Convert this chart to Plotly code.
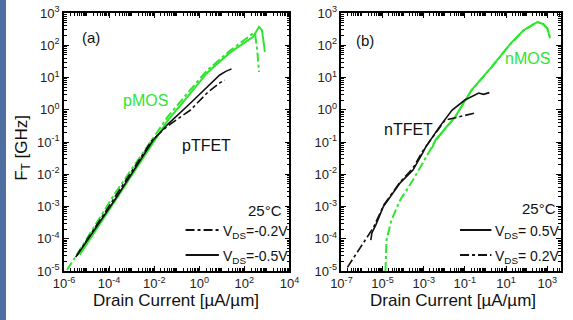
import plotly.graph_objects as go
from plotly.subplots import make_subplots

# ---------------- Panel (a): p-type devices ----------------
a_pmos_05_i = [5.0e-6, 2.2e-4, 1.1e-2, 4.1e-2, 0.41, 2.2, 22, 123, 245, 447, 603, 741, 813]
a_pmos_05_f = [3.2e-5, 1.8e-3, 0.115, 0.48, 3.3, 13.8, 58, 135, 182, 372, 295, 102, 62]

a_pmos_02_i = [1.35e-6, 4.1e-6, 1.66e-4, 9.1e-3, 4.1e-2, 0.41, 2.2, 22, 123, 245, 302, 372, 447]
a_pmos_02_f = [1.07e-5, 3.6e-5, 2.3e-3, 0.14, 0.62, 4.2, 16.5, 66, 160, 235, 209, 71, 14.8]

a_ptfet_05_i = [3.7e-6, 2.0e-4, 9.1e-3, 4.1e-2, 0.41, 2.2, 8.1, 15, 20, 27]
a_ptfet_05_f = [2.95e-5, 1.8e-3, 0.115, 0.36, 1.62, 5.1, 12.0, 15.5, 17, 18.5]

a_ptfet_02_i = [3.3e-6, 1.8e-4, 8.1e-3, 4.1e-2, 0.41, 2.2, 8.1, 13.5]
a_ptfet_02_f = [2.7e-5, 1.95e-3, 0.115, 0.32, 0.98, 3.3, 6.8, 8.3]

# ---------------- Panel (b): n-type devices ----------------
b_nmos_05_i = [2.5e-3, 3.7e-3, 3.3e-2, 0.21, 1.95, 17.4, 72, 200, 331, 630, 1000, 1380]
b_nmos_05_f = [6.3e-2, 0.115, 0.60, 4.1, 21, 117, 295, 447, 525, 457, 339, 166]

b_nmos_02_i = [1.38e-5, 1.55e-5, 2.7e-5, 7.2e-5, 3.0e-4, 8.9e-4, 3.7e-3, 3.3e-2, 0.21, 1.95, 17.4, 72, 200, 331, 630, 1000, 1320]
b_nmos_02_f = [1.0e-5, 9.1e-5, 3.8e-4, 1.6e-3, 6.6e-3, 2.2e-2, 0.11, 0.58, 4.0, 20.5, 115, 290, 440, 520, 455, 335, 190]

b_ntfet_05_i = [2.7e-6, 3.0e-6, 4.7e-6, 1.1e-5, 7.2e-5, 3.0e-4, 8.9e-4, 1.26e-3, 5.8e-3, 2.4e-2, 0.1, 0.47, 0.8, 1.55]
b_ntfet_05_f = [9.1e-5, 1.5e-4, 2.7e-4, 1.0e-3, 5.4e-3, 1.35e-2, 4.6e-2, 7.1e-2, 0.295, 0.98, 2.0, 3.3, 3.0, 3.4]

b_ntfet_02_i = [1.95e-7, 7.9e-7, 3.7e-6, 1.1e-5, 7.2e-5, 3.0e-4, 8.9e-4, 2.7e-3, 1.1e-2, 5.1e-2, 0.30]
b_ntfet_02_f = [1.3e-5, 5.1e-5, 2.3e-4, 1.07e-3, 5.8e-3, 1.55e-2, 5.2e-2, 0.14, 0.48, 0.60, 0.79]

# ---------------- Tick labels ----------------
a_xtick_vals = [1e-6, 1e-4, 1e-2, 1e0, 1e2, 1e4]
a_xtick_text = ["10<sup>-6</sup>", "10<sup>-4</sup>", "10<sup>-2</sup>", "10<sup>0</sup>", "10<sup>2</sup>", "10<sup>4</sup>"]
b_xtick_vals = [1e-7, 1e-5, 1e-3, 1e-1, 1e1, 1e3]
b_xtick_text = ["10<sup>-7</sup>", "10<sup>-5</sup>", "10<sup>-3</sup>", "10<sup>-1</sup>", "10<sup>1</sup>", "10<sup>3</sup>"]
ytick_vals = [1e-5, 1e-4, 1e-3, 1e-2, 1e-1, 1e0, 1e1, 1e2, 1e3]
ytick_text = ["10<sup>-5</sup>", "10<sup>-4</sup>", "10<sup>-3</sup>", "10<sup>-2</sup>", "10<sup>-1</sup>",
              "10<sup>0</sup>", "10<sup>1</sup>", "10<sup>2</sup>", "10<sup>3</sup>"]

GREEN = "#2fe62f"
BLACK = "#111111"
FONT = "Arial, Liberation Sans, sans-serif"

W, H = 573, 320
ML, MR, MT, MB = 64, 2, 13, 49
PW, PH = W - ML - MR, H - MT - MB


def px(x):
    return (x - ML) / PW


def py(y):
    return (H - MB - y) / PH


fig = make_subplots(rows=1, cols=2, horizontal_spacing=0.0)

# panel (a)
fig.add_trace(go.Scatter(x=a_pmos_05_i, y=a_pmos_05_f, mode="lines",
                         line=dict(color=GREEN, width=2, dash="solid")), row=1, col=1)
fig.add_trace(go.Scatter(x=a_pmos_02_i, y=a_pmos_02_f, mode="lines",
                         line=dict(color=GREEN, width=2, dash="dashdot")), row=1, col=1)
fig.add_trace(go.Scatter(x=a_ptfet_05_i, y=a_ptfet_05_f, mode="lines",
                         line=dict(color=BLACK, width=1.6, dash="solid")), row=1, col=1)
fig.add_trace(go.Scatter(x=a_ptfet_02_i, y=a_ptfet_02_f, mode="lines",
                         line=dict(color=BLACK, width=1.6, dash="dashdot")), row=1, col=1)
# panel (b)
fig.add_trace(go.Scatter(x=b_nmos_02_i, y=b_nmos_02_f, mode="lines",
                         line=dict(color=GREEN, width=2, dash="dashdot")), row=1, col=2)
fig.add_trace(go.Scatter(x=b_nmos_05_i, y=b_nmos_05_f, mode="lines",
                         line=dict(color=GREEN, width=2, dash="solid")), row=1, col=2)
fig.add_trace(go.Scatter(x=b_ntfet_05_i, y=b_ntfet_05_f, mode="lines",
                         line=dict(color=BLACK, width=1.6, dash="solid")), row=1, col=2)
fig.add_trace(go.Scatter(x=b_ntfet_02_i, y=b_ntfet_02_f, mode="lines",
                         line=dict(color=BLACK, width=1.6, dash="dashdot")), row=1, col=2)


def minor_vals(lo, hi):
    vals = []
    for e in range(lo, hi):
        for m in range(1, 10):
            vals.append(m * 10.0 ** e)
    return vals


axis_common = dict(type="log", showgrid=False, zeroline=False, showline=True,
                   linecolor="black", linewidth=1.5, mirror="allticks",
                   ticks="inside", ticklen=5, tickwidth=1.2, tickcolor="black",
                   tickmode="array", tickfont=dict(family=FONT, size=13, color="#222"),
                   exponentformat="power")

fig.update_xaxes(axis_common)
fig.update_yaxes(axis_common)

fig.update_layout(
    xaxis=dict(domain=[0, px(294)], range=[-6, 4], tickvals=a_xtick_vals, ticktext=a_xtick_text,
               minor=dict(ticks="inside", ticklen=3, tickcolor="black", tickmode="array",
                          tickvals=minor_vals(-6, 4))),
    xaxis2=dict(domain=[px(347), 1], range=[-7, 3.67], tickvals=b_xtick_vals, ticktext=b_xtick_text,
                minor=dict(ticks="inside", ticklen=3, tickcolor="black", tickmode="array",
                           tickvals=minor_vals(-7, 4))),
    yaxis=dict(domain=[0, 1], range=[-5, 3], tickvals=ytick_vals, ticktext=ytick_text,
               minor=dict(ticks="inside", ticklen=3, tickcolor="black", tickmode="array",
                          tickvals=minor_vals(-5, 3))),
    yaxis2=dict(domain=[0, 1], range=[-5, 3], tickvals=ytick_vals, ticktext=ytick_text,
                minor=dict(ticks="inside", ticklen=3, tickcolor="black", tickmode="array",
                           tickvals=minor_vals(-5, 3))),
)

anns = []


def add_text(x, y, text, size, color="#111", xanchor="center", yanchor="middle", angle=0):
    anns.append(dict(x=px(x), y=py(y), xref="paper", yref="paper", text=text, showarrow=False,
                     xanchor=xanchor, yanchor=yanchor, textangle=angle,
                     font=dict(family=FONT, size=size, color=color)))


add_text(92, 38, "(a)", 15)
add_text(371, 41, "(b)", 15)
add_text(147, 100, "pMOS", 16, GREEN)
add_text(209, 145, "pTFET", 16)
add_text(537, 59, "nMOS", 16, GREEN)
add_text(415, 129, "nTFET", 16)
add_text(288, 210, "25°C", 15, xanchor="right")
add_text(568, 208, "25°C", 15, xanchor="right")
add_text(224, 232, "V<sub>DS</sub>=-0.2V", 14, xanchor="left")
add_text(224, 257, "V<sub>DS</sub>=-0.5V", 14, xanchor="left")
add_text(502, 232, "V<sub>DS</sub>= 0.5V", 14, xanchor="left")
add_text(502, 257, "V<sub>DS</sub>= 0.2V", 14, xanchor="left")
add_text(178, 300, "Drain Current [µA/µm]", 17)
add_text(461, 300, "Drain Current [µA/µm]", 17)
add_text(22, 148, "F<sub>T</sub> [GHz]", 17, angle=-90)

shapes = [
    dict(type="line", xref="paper", yref="paper", x0=px(188), x1=px(222), y0=py(230), y1=py(230),
         line=dict(color=BLACK, width=2, dash="dashdot")),
    dict(type="line", xref="paper", yref="paper", x0=px(188), x1=px(222), y0=py(255), y1=py(255),
         line=dict(color=BLACK, width=2)),
    dict(type="line", xref="paper", yref="paper", x0=px(468), x1=px(500), y0=py(230), y1=py(230),
         line=dict(color=BLACK, width=2)),
    dict(type="line", xref="paper", yref="paper", x0=px(468), x1=px(500), y0=py(255), y1=py(255),
         line=dict(color=BLACK, width=2, dash="dashdot")),
]

fig.update_layout(width=W, height=H, margin=dict(l=ML, r=MR, t=MT, b=MB),
                  paper_bgcolor="white", plot_bgcolor="white", showlegend=False,
                  annotations=anns, shapes=shapes, font=dict(family=FONT))

post = (
    "document.body.style.margin='0';document.body.style.padding='0';"
    "document.documentElement.style.overflow='hidden';"
    "var s=document.createElement('div');"
    "s.style.cssText='position:fixed;left:0;top:0;width:6px;height:320px;background:#4f6fa3;z-index:10;pointer-events:none';"
    "document.body.appendChild(s);"
)

fig.write_html("out.html", include_plotlyjs=True, config=dict(displayModeBar=False),
               post_script=post)
